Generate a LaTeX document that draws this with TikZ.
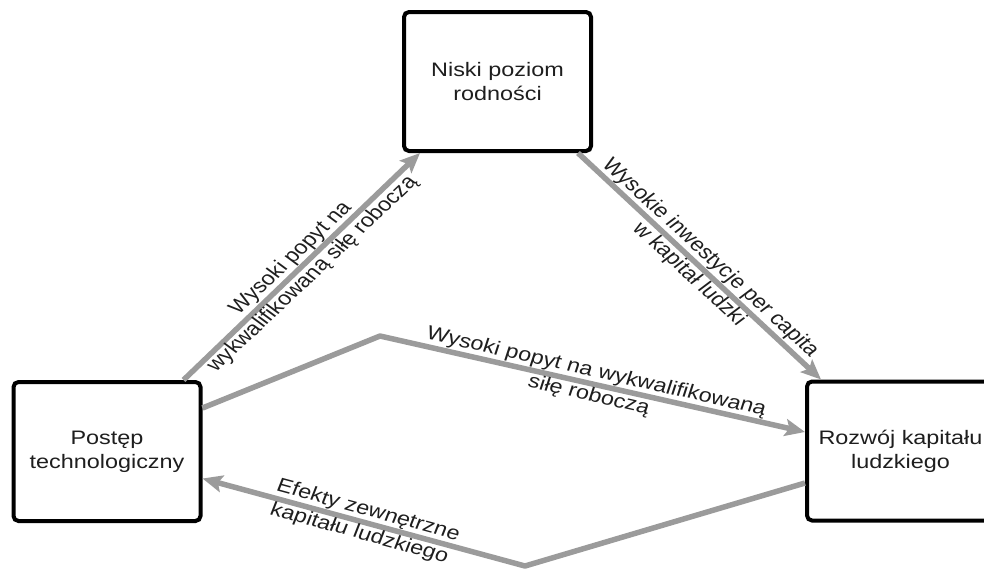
\documentclass[tikz,border=0pt]{standalone}
\usepackage{fontspec}
\setmainfont{Liberation Sans}
\newfontfamily\boxfont{Liberation Sans}[FakeStretch=1.2]
\usetikzlibrary{arrows.meta,calc}
\definecolor{arrowgray}{HTML}{9B9B9B}
\definecolor{textcol}{HTML}{1E1E1E}
\begin{document}
\begin{tikzpicture}[x=1pt,y=-1pt,
  box/.style={draw=black, line width=4pt, rounded corners=5pt, fill=white,
    minimum width=187pt, minimum height=139pt, inner sep=0pt, align=center,
    font=\boxfont\fontsize{19.5}{24}\selectfont, text=textcol},
  conn/.style={draw=arrowgray, line width=5.5pt, line join=round,
    -{Stealth[length=20pt,width=17pt,inset=4pt]}},
  lbl/.style={align=center, inner sep=0pt, font=\fontsize{19.5}{24}\selectfont,
    text=textcol, xscale=1.2}]
\useasboundingbox (0,0) rectangle (984,573);
\clip (0,0) rectangle (984,573);
\node[box] (T) at (497.5,81.5) {Niski poziom\\rodności};
\node[box] (L) at (107,451.5) {Postęp\\technologiczny};
\node[box] (R) at (900.5,451) {Rozwój kapitału\\ludzkiego};
\coordinate (b1) at (380,336);
\coordinate (b2) at (525,566);
\draw[conn] ($(L.north east)+(-19,0)$) -- node[lbl, rotate=48.5]
  {Wysoki popyt na\\wykwalifikowaną siłę roboczą} ($(T.south west)+(18,0)$);
\draw[conn] ($(T.south east)+(-15,0)$) -- node[lbl, rotate=-47.9]
  {Wysokie inwestycje per capita\\w kapitał ludzki} ($(R.north west)+(16,0)$);
\draw[conn] ($(L.east)+(0,-43.5)$) -- (b1) -- node[lbl, rotate=-15.2]
  {Wysoki popyt na wykwalifikowaną\\siłę roboczą} ($(R.west)+(0,-19)$);
\draw[conn] ($(R.west)+(0,32)$) -- (b2) -- node[lbl, rotate=-18.1]
  {Efekty zewnętrzne\\kapitału ludzkiego} ($(L.east)+(0,27)$);
\end{tikzpicture}
\end{document}
